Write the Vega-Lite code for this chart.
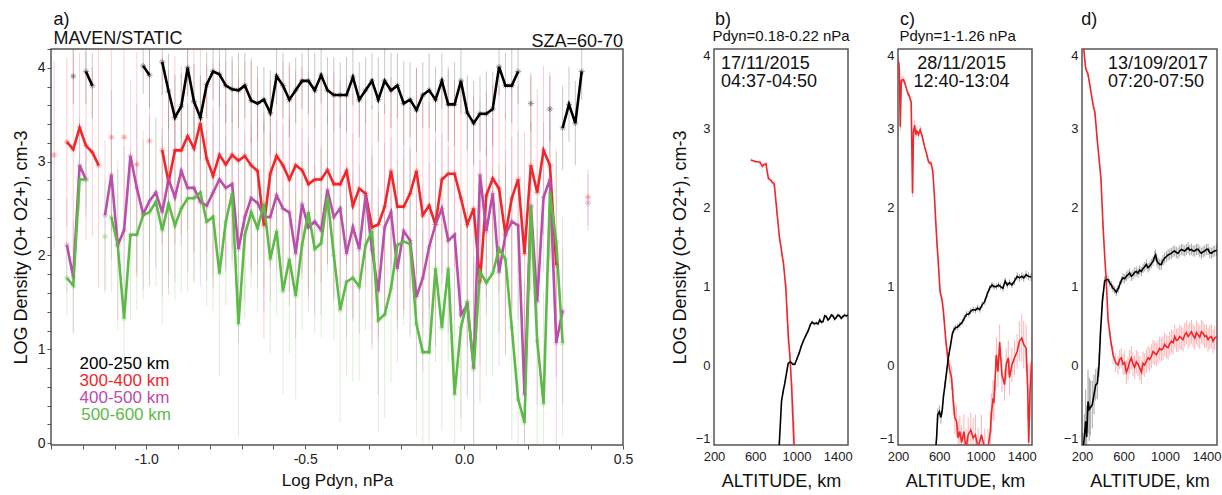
{
"$schema": "https://vega.github.io/schema/vega-lite/v6.json",
"padding": {"left": 11, "top": 9, "right": 0, "bottom": 0},
"config": {
  "font": "Liberation Sans",
  "view": {"stroke": "#555555", "strokeWidth": 1.5},
  "axis": {"grid": false, "domain": false, "labelFont": "Liberation Sans", "titleFont": "Liberation Sans", "titleFontWeight": "normal", "labelColor": "#222222", "titleColor": "#111111", "tickColor": "#555555"},
  "text": {"font": "Liberation Sans"}
},
"datasets": {
  "a": [
    {"s":"B","g":"B1","x":-1.23,"y":3.91,"e":0.3},
    {"s":"B","g":"B2","x":-1.19,"y":3.96,"e":0.35},{"s":"B","g":"B2","x":-1.17,"y":3.81,"e":0.35},
    {"s":"B","g":"B3","x":-1.01,"y":4.02,"e":0.3},{"s":"B","g":"B3","x":-0.99,"y":3.92,"e":0.35},
    {"s":"B","g":"B4","x":-0.95,"y":4.06,"e":0.35},{"s":"B","g":"B4","x":-0.93,"y":3.75,"e":0.4},{"s":"B","g":"B4","x":-0.91,"y":3.47,"e":0.45},{"s":"B","g":"B4","x":-0.89,"y":3.59,"e":0.35},{"s":"B","g":"B4","x":-0.87,"y":4.0,"e":0.3},{"s":"B","g":"B4","x":-0.85,"y":3.64,"e":0.4},{"s":"B","g":"B4","x":-0.83,"y":3.47,"e":0.45},{"s":"B","g":"B4","x":-0.81,"y":3.82,"e":0.35},{"s":"B","g":"B4","x":-0.79,"y":3.96,"e":0.3},{"s":"B","g":"B4","x":-0.77,"y":3.93,"e":0.35},{"s":"B","g":"B4","x":-0.75,"y":3.81,"e":0.4},{"s":"B","g":"B4","x":-0.73,"y":3.77,"e":0.35},{"s":"B","g":"B4","x":-0.71,"y":3.76,"e":0.4},{"s":"B","g":"B4","x":-0.69,"y":3.81,"e":0.35},{"s":"B","g":"B4","x":-0.67,"y":3.65,"e":0.45},{"s":"B","g":"B4","x":-0.65,"y":3.62,"e":0.4},{"s":"B","g":"B4","x":-0.63,"y":3.66,"e":0.35},{"s":"B","g":"B4","x":-0.61,"y":3.52,"e":0.45},{"s":"B","g":"B4","x":-0.59,"y":3.91,"e":0.3},{"s":"B","g":"B4","x":-0.57,"y":3.81,"e":0.35},{"s":"B","g":"B4","x":-0.55,"y":3.66,"e":0.4},{"s":"B","g":"B4","x":-0.53,"y":3.76,"e":0.35},{"s":"B","g":"B4","x":-0.51,"y":3.86,"e":0.3},{"s":"B","g":"B4","x":-0.49,"y":3.86,"e":0.35},{"s":"B","g":"B4","x":-0.47,"y":3.76,"e":0.4},{"s":"B","g":"B4","x":-0.45,"y":3.92,"e":0.3},{"s":"B","g":"B4","x":-0.43,"y":3.76,"e":0.35},{"s":"B","g":"B4","x":-0.41,"y":3.71,"e":0.4},{"s":"B","g":"B4","x":-0.39,"y":3.71,"e":0.35},{"s":"B","g":"B4","x":-0.37,"y":3.71,"e":0.4},{"s":"B","g":"B4","x":-0.35,"y":3.9,"e":0.3},{"s":"B","g":"B4","x":-0.33,"y":3.66,"e":0.4},{"s":"B","g":"B4","x":-0.31,"y":3.76,"e":0.35},{"s":"B","g":"B4","x":-0.29,"y":3.86,"e":0.3},{"s":"B","g":"B4","x":-0.27,"y":3.66,"e":0.45},{"s":"B","g":"B4","x":-0.25,"y":3.86,"e":0.35},{"s":"B","g":"B4","x":-0.23,"y":3.76,"e":0.4},{"s":"B","g":"B4","x":-0.21,"y":3.81,"e":0.35},{"s":"B","g":"B4","x":-0.19,"y":3.62,"e":0.45},{"s":"B","g":"B4","x":-0.17,"y":3.66,"e":0.4},{"s":"B","g":"B4","x":-0.15,"y":3.55,"e":0.45},{"s":"B","g":"B4","x":-0.13,"y":3.71,"e":0.35},{"s":"B","g":"B4","x":-0.11,"y":3.76,"e":0.4},{"s":"B","g":"B4","x":-0.09,"y":3.66,"e":0.35},{"s":"B","g":"B4","x":-0.07,"y":3.86,"e":0.3},{"s":"B","g":"B4","x":-0.05,"y":3.61,"e":0.4},{"s":"B","g":"B4","x":-0.03,"y":3.61,"e":0.45},{"s":"B","g":"B4","x":-0.01,"y":3.86,"e":0.35},{"s":"B","g":"B4","x":0.01,"y":3.52,"e":0.4},{"s":"B","g":"B4","x":0.03,"y":3.41,"e":0.45},{"s":"B","g":"B4","x":0.05,"y":3.51,"e":0.4},{"s":"B","g":"B4","x":0.07,"y":3.51,"e":0.45},{"s":"B","g":"B4","x":0.09,"y":3.56,"e":0.4},{"s":"B","g":"B4","x":0.11,"y":4.01,"e":0.3},{"s":"B","g":"B4","x":0.13,"y":3.81,"e":0.35},{"s":"B","g":"B4","x":0.15,"y":3.81,"e":0.4},{"s":"B","g":"B4","x":0.17,"y":3.96,"e":0.35},
    {"s":"B","g":"B5","x":0.21,"y":3.62,"e":0.3},
    {"s":"B","g":"B6","x":0.27,"y":3.56,"e":0.35},
    {"s":"B","g":"B7","x":0.31,"y":3.36,"e":0.45},{"s":"B","g":"B7","x":0.33,"y":3.61,"e":0.4},{"s":"B","g":"B7","x":0.35,"y":3.41,"e":0.45},{"s":"B","g":"B7","x":0.37,"y":3.96,"e":0.3},
    {"s":"R","g":"R1","x":-1.29,"y":3.07,"e":1.0},
    {"s":"R","g":"R2","x":-1.25,"y":3.21,"e":0.9},{"s":"R","g":"R2","x":-1.23,"y":3.13,"e":1.1},{"s":"R","g":"R2","x":-1.21,"y":3.36,"e":0.8},{"s":"R","g":"R2","x":-1.19,"y":3.17,"e":1.0},{"s":"R","g":"R2","x":-1.17,"y":3.1,"e":0.9},{"s":"R","g":"R2","x":-1.15,"y":2.96,"e":1.3},
    {"s":"R","g":"R3","x":-1.11,"y":3.26,"e":1.0},
    {"s":"R","g":"R4","x":-1.07,"y":3.26,"e":1.1},
    {"s":"R","g":"R5","x":-1.03,"y":2.97,"e":1.2},
    {"s":"R","g":"R6","x":-0.99,"y":3.22,"e":1.2},
    {"s":"R","g":"R7","x":-0.95,"y":3.12,"e":1.0},{"s":"R","g":"R7","x":-0.93,"y":2.78,"e":1.2},{"s":"R","g":"R7","x":-0.91,"y":3.12,"e":1.0},{"s":"R","g":"R7","x":-0.89,"y":3.12,"e":0.9},{"s":"R","g":"R7","x":-0.87,"y":3.27,"e":1.0},{"s":"R","g":"R7","x":-0.85,"y":3.14,"e":1.1},{"s":"R","g":"R7","x":-0.83,"y":3.41,"e":0.9},{"s":"R","g":"R7","x":-0.81,"y":3.03,"e":1.0},{"s":"R","g":"R7","x":-0.79,"y":2.85,"e":1.2},{"s":"R","g":"R7","x":-0.77,"y":3.07,"e":1.0},{"s":"R","g":"R7","x":-0.75,"y":2.97,"e":1.1},{"s":"R","g":"R7","x":-0.73,"y":3.07,"e":1.0},{"s":"R","g":"R7","x":-0.71,"y":3.01,"e":0.9},{"s":"R","g":"R7","x":-0.69,"y":3.06,"e":1.0},{"s":"R","g":"R7","x":-0.67,"y":2.96,"e":1.1},{"s":"R","g":"R7","x":-0.65,"y":2.9,"e":1.0},{"s":"R","g":"R7","x":-0.63,"y":2.32,"e":1.2},{"s":"R","g":"R7","x":-0.61,"y":2.87,"e":1.0},{"s":"R","g":"R7","x":-0.59,"y":3.06,"e":0.9},{"s":"R","g":"R7","x":-0.57,"y":2.96,"e":1.1},{"s":"R","g":"R7","x":-0.55,"y":2.81,"e":1.2},{"s":"R","g":"R7","x":-0.53,"y":2.96,"e":1.0},{"s":"R","g":"R7","x":-0.51,"y":2.91,"e":1.1},{"s":"R","g":"R7","x":-0.49,"y":2.76,"e":1.2},{"s":"R","g":"R7","x":-0.47,"y":2.81,"e":1.0},{"s":"R","g":"R7","x":-0.45,"y":2.81,"e":1.1},{"s":"R","g":"R7","x":-0.43,"y":2.91,"e":1.0},{"s":"R","g":"R7","x":-0.41,"y":2.76,"e":1.2},{"s":"R","g":"R7","x":-0.39,"y":2.76,"e":1.1},{"s":"R","g":"R7","x":-0.37,"y":2.9,"e":1.0},{"s":"R","g":"R7","x":-0.35,"y":2.53,"e":1.2},{"s":"R","g":"R7","x":-0.33,"y":2.71,"e":1.1},{"s":"R","g":"R7","x":-0.31,"y":2.66,"e":1.0},{"s":"R","g":"R7","x":-0.29,"y":2.3,"e":1.3},{"s":"R","g":"R7","x":-0.27,"y":2.33,"e":1.2},{"s":"R","g":"R7","x":-0.25,"y":2.52,"e":1.1},{"s":"R","g":"R7","x":-0.23,"y":2.9,"e":1.0},{"s":"R","g":"R7","x":-0.21,"y":2.52,"e":1.2},{"s":"R","g":"R7","x":-0.19,"y":2.52,"e":1.1},{"s":"R","g":"R7","x":-0.17,"y":2.66,"e":1.0},{"s":"R","g":"R7","x":-0.15,"y":2.9,"e":1.1},{"s":"R","g":"R7","x":-0.13,"y":2.43,"e":1.2},{"s":"R","g":"R7","x":-0.11,"y":2.53,"e":1.1},{"s":"R","g":"R7","x":-0.09,"y":2.33,"e":1.3},{"s":"R","g":"R7","x":-0.07,"y":2.81,"e":1.0},{"s":"R","g":"R7","x":-0.05,"y":2.87,"e":1.1},{"s":"R","g":"R7","x":-0.03,"y":2.87,"e":1.0},{"s":"R","g":"R7","x":-0.01,"y":2.61,"e":1.2},{"s":"R","g":"R7","x":0.01,"y":2.33,"e":1.3},{"s":"R","g":"R7","x":0.03,"y":2.5,"e":1.2},{"s":"R","g":"R7","x":0.05,"y":1.72,"e":1.3},{"s":"R","g":"R7","x":0.07,"y":2.64,"e":1.1},{"s":"R","g":"R7","x":0.09,"y":2.82,"e":1.0},{"s":"R","g":"R7","x":0.11,"y":2.71,"e":1.1},{"s":"R","g":"R7","x":0.13,"y":2.22,"e":1.3},{"s":"R","g":"R7","x":0.15,"y":2.61,"e":1.2},{"s":"R","g":"R7","x":0.17,"y":2.81,"e":1.0},{"s":"R","g":"R7","x":0.19,"y":2.02,"e":1.3},{"s":"R","g":"R7","x":0.21,"y":2.96,"e":1.0},{"s":"R","g":"R7","x":0.23,"y":2.67,"e":1.1},{"s":"R","g":"R7","x":0.25,"y":3.12,"e":0.9},{"s":"R","g":"R7","x":0.27,"y":2.96,"e":1.0},{"s":"R","g":"R7","x":0.29,"y":1.9,"e":1.2},
    {"s":"R","g":"R8","x":0.39,"y":2.62,"e":0.3},
    {"s":"P","g":"P1","x":-1.25,"y":2.11,"e":0.5},{"s":"P","g":"P1","x":-1.23,"y":1.77,"e":0.6},{"s":"P","g":"P1","x":-1.21,"y":2.96,"e":0.5},{"s":"P","g":"P1","x":-1.19,"y":2.81,"e":0.4},
    {"s":"P","g":"P2","x":-1.13,"y":2.43,"e":0.8},{"s":"P","g":"P2","x":-1.11,"y":2.86,"e":0.9},{"s":"P","g":"P2","x":-1.09,"y":2.11,"e":0.8},{"s":"P","g":"P2","x":-1.07,"y":2.27,"e":0.9},{"s":"P","g":"P2","x":-1.05,"y":3.06,"e":0.8},{"s":"P","g":"P2","x":-1.03,"y":2.72,"e":0.9},{"s":"P","g":"P2","x":-1.01,"y":2.44,"e":0.8},{"s":"P","g":"P2","x":-0.99,"y":2.58,"e":0.9},{"s":"P","g":"P2","x":-0.97,"y":2.67,"e":0.8},{"s":"P","g":"P2","x":-0.95,"y":2.46,"e":0.9},{"s":"P","g":"P2","x":-0.93,"y":2.81,"e":1.0},{"s":"P","g":"P2","x":-0.91,"y":2.62,"e":0.9},{"s":"P","g":"P2","x":-0.89,"y":2.9,"e":0.8},{"s":"P","g":"P2","x":-0.87,"y":2.72,"e":0.9},{"s":"P","g":"P2","x":-0.85,"y":2.72,"e":1.0},{"s":"P","g":"P2","x":-0.83,"y":2.57,"e":0.9},{"s":"P","g":"P2","x":-0.81,"y":2.53,"e":0.8},{"s":"P","g":"P2","x":-0.79,"y":2.67,"e":0.9},{"s":"P","g":"P2","x":-0.77,"y":2.81,"e":1.0},{"s":"P","g":"P2","x":-0.75,"y":2.72,"e":0.9},{"s":"P","g":"P2","x":-0.73,"y":2.76,"e":0.8},{"s":"P","g":"P2","x":-0.71,"y":2.07,"e":1.0},{"s":"P","g":"P2","x":-0.69,"y":2.41,"e":0.9},{"s":"P","g":"P2","x":-0.67,"y":2.61,"e":0.8},{"s":"P","g":"P2","x":-0.65,"y":2.56,"e":0.9},{"s":"P","g":"P2","x":-0.63,"y":2.41,"e":1.0},{"s":"P","g":"P2","x":-0.61,"y":2.41,"e":0.9},{"s":"P","g":"P2","x":-0.59,"y":2.64,"e":0.8},{"s":"P","g":"P2","x":-0.57,"y":2.5,"e":0.9},{"s":"P","g":"P2","x":-0.55,"y":2.46,"e":1.0},{"s":"P","g":"P2","x":-0.53,"y":2.02,"e":0.9},{"s":"P","g":"P2","x":-0.51,"y":2.55,"e":0.8},{"s":"P","g":"P2","x":-0.49,"y":2.3,"e":0.9},{"s":"P","g":"P2","x":-0.47,"y":2.36,"e":1.0},{"s":"P","g":"P2","x":-0.45,"y":2.27,"e":0.9},{"s":"P","g":"P2","x":-0.43,"y":2.7,"e":0.8},{"s":"P","g":"P2","x":-0.41,"y":2.41,"e":0.9},{"s":"P","g":"P2","x":-0.39,"y":2.5,"e":1.0},{"s":"P","g":"P2","x":-0.37,"y":2.02,"e":0.9},{"s":"P","g":"P2","x":-0.35,"y":2.3,"e":1.0},{"s":"P","g":"P2","x":-0.33,"y":2.07,"e":0.9},{"s":"P","g":"P2","x":-0.31,"y":2.64,"e":0.8},{"s":"P","g":"P2","x":-0.29,"y":2.06,"e":1.0},{"s":"P","g":"P2","x":-0.27,"y":1.62,"e":1.1},{"s":"P","g":"P2","x":-0.25,"y":2.3,"e":0.9},{"s":"P","g":"P2","x":-0.23,"y":2.46,"e":0.8},{"s":"P","g":"P2","x":-0.21,"y":1.86,"e":1.0},{"s":"P","g":"P2","x":-0.19,"y":2.26,"e":0.9},{"s":"P","g":"P2","x":-0.17,"y":2.16,"e":1.0},{"s":"P","g":"P2","x":-0.15,"y":1.56,"e":1.1},{"s":"P","g":"P2","x":-0.13,"y":1.76,"e":1.0},{"s":"P","g":"P2","x":-0.11,"y":2.09,"e":0.9},{"s":"P","g":"P2","x":-0.09,"y":2.33,"e":0.9},{"s":"P","g":"P2","x":-0.07,"y":2.5,"e":0.8},{"s":"P","g":"P2","x":-0.05,"y":2.16,"e":1.0},{"s":"P","g":"P2","x":-0.03,"y":2.22,"e":0.9},{"s":"P","g":"P2","x":-0.01,"y":1.37,"e":1.1},{"s":"P","g":"P2","x":0.01,"y":1.47,"e":1.0},{"s":"P","g":"P2","x":0.03,"y":0.82,"e":1.1},{"s":"P","g":"P2","x":0.05,"y":2.86,"e":0.8},{"s":"P","g":"P2","x":0.07,"y":2.26,"e":0.9},{"s":"P","g":"P2","x":0.09,"y":2.66,"e":0.8},{"s":"P","g":"P2","x":0.11,"y":1.82,"e":1.0},{"s":"P","g":"P2","x":0.13,"y":2.22,"e":0.9},{"s":"P","g":"P2","x":0.15,"y":2.36,"e":0.9},{"s":"P","g":"P2","x":0.17,"y":2.32,"e":1.0},{"s":"P","g":"P2","x":0.19,"y":0.52,"e":1.2},{"s":"P","g":"P2","x":0.21,"y":2.53,"e":0.9},{"s":"P","g":"P2","x":0.23,"y":1.51,"e":1.1},{"s":"P","g":"P2","x":0.25,"y":2.62,"e":0.8},{"s":"P","g":"P2","x":0.27,"y":2.81,"e":0.8},{"s":"P","g":"P2","x":0.29,"y":1.07,"e":1.1},{"s":"P","g":"P2","x":0.31,"y":1.41,"e":1.0},
    {"s":"P","g":"P3","x":0.39,"y":2.56,"e":0.3},
    {"s":"G","g":"G1","x":-1.25,"y":1.76,"e":0.4},{"s":"G","g":"G1","x":-1.23,"y":1.68,"e":0.5},{"s":"G","g":"G1","x":-1.21,"y":2.81,"e":0.3},{"s":"G","g":"G1","x":-1.19,"y":2.81,"e":0.3},
    {"s":"G","g":"G2","x":-1.13,"y":2.2,"e":0.6},
    {"s":"G","g":"G3","x":-1.11,"y":2.41,"e":0.8},{"s":"G","g":"G3","x":-1.09,"y":2.11,"e":0.9},{"s":"G","g":"G3","x":-1.07,"y":1.33,"e":1.0},{"s":"G","g":"G3","x":-1.05,"y":2.22,"e":0.9},{"s":"G","g":"G3","x":-1.03,"y":2.22,"e":0.8},{"s":"G","g":"G3","x":-1.01,"y":2.43,"e":0.9},{"s":"G","g":"G3","x":-0.99,"y":2.46,"e":0.8},{"s":"G","g":"G3","x":-0.97,"y":2.57,"e":0.9},{"s":"G","g":"G3","x":-0.95,"y":2.27,"e":1.0},{"s":"G","g":"G3","x":-0.93,"y":2.55,"e":0.9},{"s":"G","g":"G3","x":-0.91,"y":2.32,"e":0.8},{"s":"G","g":"G3","x":-0.89,"y":2.5,"e":0.9},{"s":"G","g":"G3","x":-0.87,"y":2.61,"e":1.0},{"s":"G","g":"G3","x":-0.85,"y":2.61,"e":0.9},{"s":"G","g":"G3","x":-0.83,"y":2.67,"e":0.8},{"s":"G","g":"G3","x":-0.81,"y":2.36,"e":0.9},{"s":"G","g":"G3","x":-0.79,"y":2.41,"e":1.0},{"s":"G","g":"G3","x":-0.77,"y":1.81,"e":1.1},{"s":"G","g":"G3","x":-0.75,"y":2.36,"e":0.9},{"s":"G","g":"G3","x":-0.73,"y":2.66,"e":0.8},{"s":"G","g":"G3","x":-0.71,"y":1.27,"e":1.2},{"s":"G","g":"G3","x":-0.69,"y":2.22,"e":0.9},{"s":"G","g":"G3","x":-0.67,"y":2.46,"e":0.8},{"s":"G","g":"G3","x":-0.65,"y":2.29,"e":0.9},{"s":"G","g":"G3","x":-0.63,"y":2.55,"e":0.9},{"s":"G","g":"G3","x":-0.61,"y":1.96,"e":1.0},{"s":"G","g":"G3","x":-0.59,"y":2.26,"e":0.9},{"s":"G","g":"G3","x":-0.57,"y":1.62,"e":1.1},{"s":"G","g":"G3","x":-0.55,"y":1.96,"e":1.0},{"s":"G","g":"G3","x":-0.53,"y":1.57,"e":1.1},{"s":"G","g":"G3","x":-0.51,"y":2.11,"e":0.9},{"s":"G","g":"G3","x":-0.49,"y":2.46,"e":0.8},{"s":"G","g":"G3","x":-0.47,"y":2.07,"e":0.9},{"s":"G","g":"G3","x":-0.45,"y":2.13,"e":1.0},{"s":"G","g":"G3","x":-0.43,"y":2.62,"e":0.8},{"s":"G","g":"G3","x":-0.41,"y":2.0,"e":0.9},{"s":"G","g":"G3","x":-0.39,"y":1.42,"e":1.2},{"s":"G","g":"G3","x":-0.37,"y":1.72,"e":1.0},{"s":"G","g":"G3","x":-0.35,"y":1.76,"e":1.1},{"s":"G","g":"G3","x":-0.33,"y":1.67,"e":1.0},{"s":"G","g":"G3","x":-0.31,"y":2.11,"e":0.9},{"s":"G","g":"G3","x":-0.29,"y":2.26,"e":0.9},{"s":"G","g":"G3","x":-0.27,"y":1.31,"e":1.2},{"s":"G","g":"G3","x":-0.25,"y":1.37,"e":1.1},{"s":"G","g":"G3","x":-0.23,"y":1.65,"e":1.0},{"s":"G","g":"G3","x":-0.21,"y":2.11,"e":0.9},{"s":"G","g":"G3","x":-0.19,"y":2.15,"e":0.9},{"s":"G","g":"G3","x":-0.17,"y":2.12,"e":1.0},{"s":"G","g":"G3","x":-0.15,"y":1.27,"e":1.2},{"s":"G","g":"G3","x":-0.13,"y":0.97,"e":1.3},{"s":"G","g":"G3","x":-0.11,"y":0.97,"e":1.2},{"s":"G","g":"G3","x":-0.09,"y":1.86,"e":1.0},{"s":"G","g":"G3","x":-0.07,"y":1.23,"e":1.1},{"s":"G","g":"G3","x":-0.05,"y":1.86,"e":1.0},{"s":"G","g":"G3","x":-0.03,"y":0.52,"e":1.3},{"s":"G","g":"G3","x":-0.01,"y":1.23,"e":1.1},{"s":"G","g":"G3","x":0.01,"y":1.51,"e":1.0},{"s":"G","g":"G3","x":0.03,"y":0.79,"e":1.2},{"s":"G","g":"G3","x":0.05,"y":1.83,"e":1.0},{"s":"G","g":"G3","x":0.07,"y":1.71,"e":1.0},{"s":"G","g":"G3","x":0.09,"y":1.81,"e":1.1},{"s":"G","g":"G3","x":0.11,"y":2.07,"e":0.9},{"s":"G","g":"G3","x":0.13,"y":1.96,"e":1.0},{"s":"G","g":"G3","x":0.15,"y":1.23,"e":1.2},{"s":"G","g":"G3","x":0.17,"y":0.47,"e":1.3},{"s":"G","g":"G3","x":0.19,"y":0.22,"e":1.2},{"s":"G","g":"G3","x":0.21,"y":2.52,"e":0.9},{"s":"G","g":"G3","x":0.23,"y":1.09,"e":1.2},{"s":"G","g":"G3","x":0.25,"y":0.42,"e":1.2},{"s":"G","g":"G3","x":0.27,"y":2.67,"e":0.8},{"s":"G","g":"G3","x":0.29,"y":2.14,"e":1.0},{"s":"G","g":"G3","x":0.31,"y":1.07,"e":1.0}
  ],
  "aleg": [
    {"s":"B","t":"200-250 km","x":-1.21,"y":0.785},
    {"s":"R","t":"300-400 km","x":-1.21,"y":0.605},
    {"s":"P","t":"400-500 km","x":-1.21,"y":0.424},
    {"s":"G","t":"500-600 km","x":-1.205,"y":0.244}
  ],
  "anl": [{"t":"a)","x":-1.292,"y":4.46},{"t":"MAVEN/STATIC","x":-1.292,"y":4.25}],
  "anr": [{"t":"SZA=60-70","x":0.5,"y":4.22}],
  "b": [
    {"s":"R","alt":559,"y":2.6,"e":0.02},{"s":"R","alt":600,"y":2.58,"e":0.02},{"s":"R","alt":646,"y":2.57,"e":0.03},{"s":"R","alt":669,"y":2.52,"e":0.03},{"s":"R","alt":685,"y":2.54,"e":0.03},{"s":"R","alt":704,"y":2.55,"e":0.03},{"s":"R","alt":727,"y":2.37,"e":0.03},{"s":"R","alt":759,"y":2.33,"e":0.03},{"s":"R","alt":785,"y":2.29,"e":0.04},{"s":"R","alt":810,"y":1.95,"e":0.05},{"s":"R","alt":835,"y":1.62,"e":0.05},{"s":"R","alt":855,"y":1.45,"e":0.06},{"s":"R","alt":875,"y":1.28,"e":0.06},{"s":"R","alt":897,"y":0.98,"e":0.08},{"s":"R","alt":910,"y":0.65,"e":0.1},{"s":"R","alt":920,"y":0.39,"e":0.12},{"s":"R","alt":942,"y":0.01,"e":0.15},{"s":"R","alt":958,"y":-0.41,"e":0.2},{"s":"R","alt":968,"y":-0.74,"e":0.25},{"s":"R","alt":977,"y":-1.0,"e":0.3},
    {"s":"K","alt":833,"y":-1.0,"e":0.05},{"s":"K","alt":845,"y":-0.7,"e":0.05},{"s":"K","alt":855,"y":-0.45,"e":0.04},{"s":"K","alt":870,"y":-0.33,"e":0.03},{"s":"K","alt":887,"y":-0.22,"e":0.03},{"s":"K","alt":905,"y":-0.08,"e":0.03},{"s":"K","alt":920,"y":0.03,"e":0.02},{"s":"K","alt":942,"y":0.05,"e":0.02},{"s":"K","alt":965,"y":0.02,"e":0.02},{"s":"K","alt":984,"y":0.02,"e":0.02},{"s":"K","alt":1005,"y":0.09,"e":0.02},{"s":"K","alt":1026,"y":0.16,"e":0.02},{"s":"K","alt":1045,"y":0.24,"e":0.02},{"s":"K","alt":1065,"y":0.31,"e":0.02},{"s":"K","alt":1090,"y":0.38,"e":0.02},{"s":"K","alt":1113,"y":0.44,"e":0.02},{"s":"K","alt":1135,"y":0.52,"e":0.02},{"s":"K","alt":1152,"y":0.55,"e":0.02},{"s":"K","alt":1172,"y":0.53,"e":0.02},{"s":"K","alt":1194,"y":0.54,"e":0.02},{"s":"K","alt":1210,"y":0.53,"e":0.02},{"s":"K","alt":1226,"y":0.58,"e":0.02},{"s":"K","alt":1242,"y":0.55,"e":0.02},{"s":"K","alt":1258,"y":0.56,"e":0.02},{"s":"K","alt":1274,"y":0.63,"e":0.02},{"s":"K","alt":1290,"y":0.62,"e":0.02},{"s":"K","alt":1306,"y":0.58,"e":0.02},{"s":"K","alt":1322,"y":0.6,"e":0.02},{"s":"K","alt":1338,"y":0.64,"e":0.02},{"s":"K","alt":1354,"y":0.63,"e":0.02},{"s":"K","alt":1370,"y":0.59,"e":0.02},{"s":"K","alt":1386,"y":0.61,"e":0.02},{"s":"K","alt":1402,"y":0.64,"e":0.02},{"s":"K","alt":1418,"y":0.63,"e":0.02},{"s":"K","alt":1434,"y":0.6,"e":0.02},{"s":"K","alt":1450,"y":0.62,"e":0.02},{"s":"K","alt":1466,"y":0.64,"e":0.02},{"s":"K","alt":1483,"y":0.63,"e":0.02},{"s":"K","alt":1498,"y":0.64,"e":0.02}
  ],
  "c": [
    {"s":"R","alt":206,"y":3.84,"e":0.05},{"s":"R","alt":213,"y":3.74,"e":0.05},{"s":"R","alt":222,"y":3.02,"e":0.05},{"s":"R","alt":232,"y":3.6,"e":0.05},{"s":"R","alt":245,"y":3.61,"e":0.04},{"s":"R","alt":255,"y":3.61,"e":0.04},{"s":"R","alt":271,"y":3.55,"e":0.04},{"s":"R","alt":296,"y":3.44,"e":0.04},{"s":"R","alt":312,"y":3.4,"e":0.04},{"s":"R","alt":328,"y":3.32,"e":0.04},{"s":"R","alt":341,"y":2.18,"e":0.05},{"s":"R","alt":350,"y":2.95,"e":0.05},{"s":"R","alt":361,"y":3.04,"e":0.06},{"s":"R","alt":372,"y":2.92,"e":0.06},{"s":"R","alt":383,"y":2.96,"e":0.06},{"s":"R","alt":399,"y":2.92,"e":0.05},{"s":"R","alt":415,"y":2.98,"e":0.05},{"s":"R","alt":438,"y":2.88,"e":0.04},{"s":"R","alt":457,"y":2.77,"e":0.04},{"s":"R","alt":479,"y":2.67,"e":0.04},{"s":"R","alt":495,"y":2.58,"e":0.03},{"s":"R","alt":508,"y":2.56,"e":0.03},{"s":"R","alt":521,"y":2.56,"e":0.03},{"s":"R","alt":537,"y":2.46,"e":0.03},{"s":"R","alt":553,"y":2.16,"e":0.04},{"s":"R","alt":566,"y":1.82,"e":0.04},{"s":"R","alt":579,"y":1.53,"e":0.05},{"s":"R","alt":592,"y":1.28,"e":0.05},{"s":"R","alt":608,"y":0.94,"e":0.05},{"s":"R","alt":630,"y":0.81,"e":0.06},{"s":"R","alt":643,"y":0.65,"e":0.08},{"s":"R","alt":662,"y":0.35,"e":0.1},{"s":"R","alt":682,"y":0.1,"e":0.12},{"s":"R","alt":704,"y":-0.07,"e":0.15},{"s":"R","alt":720,"y":-0.15,"e":0.15},{"s":"R","alt":736,"y":-0.45,"e":0.18},{"s":"R","alt":752,"y":-0.66,"e":0.2},{"s":"R","alt":768,"y":-0.7,"e":0.2},{"s":"R","alt":784,"y":-0.91,"e":0.22},{"s":"R","alt":800,"y":-0.83,"e":0.2},{"s":"R","alt":817,"y":-0.97,"e":0.22},{"s":"R","alt":839,"y":-0.83,"e":0.22},{"s":"R","alt":860,"y":-1.05,"e":0.25},{"s":"R","alt":881,"y":-0.87,"e":0.22},{"s":"R","alt":906,"y":-0.81,"e":0.22},{"s":"R","alt":929,"y":-0.91,"e":0.25},{"s":"R","alt":951,"y":-0.87,"e":0.25},{"s":"R","alt":977,"y":-1.04,"e":0.25},{"s":"R","alt":1009,"y":-0.87,"e":0.25},{"s":"R","alt":1041,"y":-1.04,"e":0.25},{"s":"R","alt":1073,"y":-1.04,"e":0.25},{"s":"R","alt":1096,"y":-0.83,"e":0.25},{"s":"R","alt":1106,"y":-0.6,"e":0.25},{"s":"R","alt":1121,"y":-0.43,"e":0.25},{"s":"R","alt":1131,"y":-0.45,"e":0.25},{"s":"R","alt":1145,"y":-0.1,"e":0.22},{"s":"R","alt":1154,"y":0.14,"e":0.22},{"s":"R","alt":1170,"y":-0.07,"e":0.2},{"s":"R","alt":1186,"y":0.3,"e":0.22},{"s":"R","alt":1208,"y":-0.11,"e":0.22},{"s":"R","alt":1234,"y":-0.24,"e":0.2},{"s":"R","alt":1250,"y":0.02,"e":0.2},{"s":"R","alt":1270,"y":0.1,"e":0.22},{"s":"R","alt":1282,"y":-0.15,"e":0.22},{"s":"R","alt":1305,"y":0.01,"e":0.22},{"s":"R","alt":1330,"y":0.1,"e":0.22},{"s":"R","alt":1356,"y":0.18,"e":0.22},{"s":"R","alt":1378,"y":0.31,"e":0.25},{"s":"R","alt":1401,"y":0.35,"e":0.3},{"s":"R","alt":1420,"y":0.27,"e":0.3},{"s":"R","alt":1443,"y":0.22,"e":0.3},{"s":"R","alt":1459,"y":-0.32,"e":0.35},{"s":"R","alt":1468,"y":-0.97,"e":0.4},{"s":"R","alt":1481,"y":-0.33,"e":0.35},{"s":"R","alt":1497,"y":0.06,"e":0.3},
    {"s":"K","alt":566,"y":-1.05,"e":0.05},{"s":"K","alt":576,"y":-0.87,"e":0.06},{"s":"K","alt":585,"y":-0.62,"e":0.08},{"s":"K","alt":601,"y":-0.58,"e":0.08},{"s":"K","alt":617,"y":-0.65,"e":0.08},{"s":"K","alt":630,"y":-0.55,"e":0.06},{"s":"K","alt":640,"y":-0.4,"e":0.05},{"s":"K","alt":656,"y":-0.24,"e":0.05},{"s":"K","alt":672,"y":-0.07,"e":0.05},{"s":"K","alt":688,"y":0.1,"e":0.05},{"s":"K","alt":711,"y":0.27,"e":0.04},{"s":"K","alt":727,"y":0.4,"e":0.04},{"s":"K","alt":743,"y":0.46,"e":0.04},{"s":"K","alt":759,"y":0.48,"e":0.04},{"s":"K","alt":778,"y":0.49,"e":0.04},{"s":"K","alt":800,"y":0.52,"e":0.04},{"s":"K","alt":823,"y":0.55,"e":0.04},{"s":"K","alt":842,"y":0.6,"e":0.04},{"s":"K","alt":865,"y":0.65,"e":0.04},{"s":"K","alt":887,"y":0.65,"e":0.04},{"s":"K","alt":906,"y":0.69,"e":0.04},{"s":"K","alt":929,"y":0.71,"e":0.04},{"s":"K","alt":951,"y":0.7,"e":0.04},{"s":"K","alt":971,"y":0.73,"e":0.04},{"s":"K","alt":993,"y":0.71,"e":0.04},{"s":"K","alt":1016,"y":0.77,"e":0.04},{"s":"K","alt":1041,"y":0.81,"e":0.04},{"s":"K","alt":1064,"y":0.9,"e":0.04},{"s":"K","alt":1089,"y":0.98,"e":0.04},{"s":"K","alt":1112,"y":1.02,"e":0.04},{"s":"K","alt":1131,"y":1.0,"e":0.04},{"s":"K","alt":1154,"y":1.0,"e":0.04},{"s":"K","alt":1176,"y":1.02,"e":0.04},{"s":"K","alt":1195,"y":1.0,"e":0.04},{"s":"K","alt":1218,"y":0.98,"e":0.04},{"s":"K","alt":1240,"y":1.07,"e":0.04},{"s":"K","alt":1260,"y":1.02,"e":0.04},{"s":"K","alt":1282,"y":1.05,"e":0.04},{"s":"K","alt":1305,"y":1.02,"e":0.04},{"s":"K","alt":1330,"y":1.07,"e":0.05},{"s":"K","alt":1356,"y":1.13,"e":0.05},{"s":"K","alt":1378,"y":1.11,"e":0.05},{"s":"K","alt":1401,"y":1.13,"e":0.05},{"s":"K","alt":1420,"y":1.11,"e":0.05},{"s":"K","alt":1443,"y":1.15,"e":0.05},{"s":"K","alt":1465,"y":1.13,"e":0.05},{"s":"K","alt":1491,"y":1.12,"e":0.05}
  ],
  "d": [
    {"s":"R","alt":200,"y":4.1,"e":0.02},{"s":"R","alt":216,"y":4.01,"e":0.02},{"s":"R","alt":235,"y":3.76,"e":0.03},{"s":"R","alt":258,"y":3.68,"e":0.03},{"s":"R","alt":280,"y":3.51,"e":0.03},{"s":"R","alt":306,"y":3.3,"e":0.04},{"s":"R","alt":325,"y":3.19,"e":0.04},{"s":"R","alt":345,"y":2.88,"e":0.04},{"s":"R","alt":364,"y":2.62,"e":0.04},{"s":"R","alt":383,"y":2.35,"e":0.04},{"s":"R","alt":402,"y":1.78,"e":0.05},{"s":"R","alt":418,"y":1.4,"e":0.05},{"s":"R","alt":434,"y":1.07,"e":0.06},{"s":"R","alt":450,"y":0.6,"e":0.08},{"s":"R","alt":473,"y":0.35,"e":0.1},{"s":"R","alt":499,"y":0.14,"e":0.12},{"s":"R","alt":524,"y":0.04,"e":0.12},{"s":"R","alt":547,"y":0.01,"e":0.12},{"s":"R","alt":563,"y":0.08,"e":0.12},{"s":"R","alt":579,"y":0.1,"e":0.12},{"s":"R","alt":595,"y":0.02,"e":0.13},{"s":"R","alt":611,"y":0.04,"e":0.15},{"s":"R","alt":627,"y":-0.08,"e":0.15},{"s":"R","alt":643,"y":-0.03,"e":0.15},{"s":"R","alt":659,"y":0.05,"e":0.15},{"s":"R","alt":675,"y":0.1,"e":0.15},{"s":"R","alt":691,"y":0.02,"e":0.15},{"s":"R","alt":707,"y":-0.02,"e":0.15},{"s":"R","alt":723,"y":0.05,"e":0.15},{"s":"R","alt":740,"y":0.02,"e":0.15},{"s":"R","alt":756,"y":-0.03,"e":0.15},{"s":"R","alt":772,"y":-0.08,"e":0.15},{"s":"R","alt":788,"y":0.03,"e":0.15},{"s":"R","alt":804,"y":0.01,"e":0.15},{"s":"R","alt":820,"y":0.06,"e":0.15},{"s":"R","alt":836,"y":0.1,"e":0.15},{"s":"R","alt":852,"y":0.08,"e":0.15},{"s":"R","alt":868,"y":0.12,"e":0.15},{"s":"R","alt":884,"y":0.18,"e":0.15},{"s":"R","alt":900,"y":0.16,"e":0.15},{"s":"R","alt":916,"y":0.14,"e":0.15},{"s":"R","alt":932,"y":0.18,"e":0.15},{"s":"R","alt":948,"y":0.22,"e":0.15},{"s":"R","alt":964,"y":0.2,"e":0.15},{"s":"R","alt":980,"y":0.22,"e":0.15},{"s":"R","alt":996,"y":0.27,"e":0.15},{"s":"R","alt":1013,"y":0.24,"e":0.15},{"s":"R","alt":1029,"y":0.23,"e":0.15},{"s":"R","alt":1045,"y":0.28,"e":0.15},{"s":"R","alt":1061,"y":0.31,"e":0.15},{"s":"R","alt":1077,"y":0.29,"e":0.15},{"s":"R","alt":1093,"y":0.37,"e":0.15},{"s":"R","alt":1109,"y":0.32,"e":0.15},{"s":"R","alt":1125,"y":0.33,"e":0.15},{"s":"R","alt":1141,"y":0.37,"e":0.15},{"s":"R","alt":1157,"y":0.35,"e":0.15},{"s":"R","alt":1173,"y":0.33,"e":0.15},{"s":"R","alt":1189,"y":0.39,"e":0.15},{"s":"R","alt":1205,"y":0.42,"e":0.15},{"s":"R","alt":1222,"y":0.37,"e":0.15},{"s":"R","alt":1238,"y":0.4,"e":0.15},{"s":"R","alt":1254,"y":0.43,"e":0.15},{"s":"R","alt":1270,"y":0.38,"e":0.15},{"s":"R","alt":1286,"y":0.35,"e":0.15},{"s":"R","alt":1302,"y":0.42,"e":0.15},{"s":"R","alt":1318,"y":0.39,"e":0.15},{"s":"R","alt":1334,"y":0.36,"e":0.15},{"s":"R","alt":1350,"y":0.43,"e":0.15},{"s":"R","alt":1366,"y":0.41,"e":0.15},{"s":"R","alt":1382,"y":0.37,"e":0.15},{"s":"R","alt":1398,"y":0.38,"e":0.15},{"s":"R","alt":1414,"y":0.33,"e":0.15},{"s":"R","alt":1430,"y":0.36,"e":0.15},{"s":"R","alt":1446,"y":0.37,"e":0.15},{"s":"R","alt":1462,"y":0.31,"e":0.15},{"s":"R","alt":1478,"y":0.35,"e":0.15},{"s":"R","alt":1500,"y":0.37,"e":0.15},
    {"s":"K","alt":210,"y":-1.05,"e":0.2},{"s":"K","alt":222,"y":-0.91,"e":0.3},{"s":"K","alt":235,"y":-0.7,"e":0.4},{"s":"K","alt":245,"y":-0.9,"e":0.4},{"s":"K","alt":258,"y":-0.45,"e":0.4},{"s":"K","alt":270,"y":-0.55,"e":0.4},{"s":"K","alt":280,"y":-0.53,"e":0.35},{"s":"K","alt":299,"y":-0.49,"e":0.3},{"s":"K","alt":316,"y":-0.36,"e":0.25},{"s":"K","alt":332,"y":-0.24,"e":0.2},{"s":"K","alt":348,"y":-0.22,"e":0.2},{"s":"K","alt":364,"y":0.01,"e":0.15},{"s":"K","alt":377,"y":0.39,"e":0.12},{"s":"K","alt":396,"y":0.81,"e":0.1},{"s":"K","alt":418,"y":1.07,"e":0.06},{"s":"K","alt":434,"y":1.09,"e":0.05},{"s":"K","alt":450,"y":1.09,"e":0.05},{"s":"K","alt":466,"y":1.05,"e":0.05},{"s":"K","alt":482,"y":1.02,"e":0.05},{"s":"K","alt":498,"y":0.98,"e":0.05},{"s":"K","alt":514,"y":0.96,"e":0.05},{"s":"K","alt":530,"y":0.93,"e":0.05},{"s":"K","alt":547,"y":0.97,"e":0.05},{"s":"K","alt":562,"y":1.02,"e":0.05},{"s":"K","alt":579,"y":1.08,"e":0.05},{"s":"K","alt":595,"y":1.11,"e":0.06},{"s":"K","alt":611,"y":1.1,"e":0.06},{"s":"K","alt":627,"y":1.13,"e":0.06},{"s":"K","alt":643,"y":1.15,"e":0.06},{"s":"K","alt":659,"y":1.17,"e":0.06},{"s":"K","alt":675,"y":1.13,"e":0.06},{"s":"K","alt":691,"y":1.15,"e":0.06},{"s":"K","alt":707,"y":1.18,"e":0.06},{"s":"K","alt":723,"y":1.19,"e":0.06},{"s":"K","alt":739,"y":1.17,"e":0.06},{"s":"K","alt":755,"y":1.21,"e":0.06},{"s":"K","alt":771,"y":1.19,"e":0.06},{"s":"K","alt":788,"y":1.23,"e":0.06},{"s":"K","alt":804,"y":1.25,"e":0.06},{"s":"K","alt":820,"y":1.28,"e":0.06},{"s":"K","alt":836,"y":1.24,"e":0.06},{"s":"K","alt":852,"y":1.26,"e":0.06},{"s":"K","alt":868,"y":1.29,"e":0.06},{"s":"K","alt":884,"y":1.32,"e":0.06},{"s":"K","alt":900,"y":1.38,"e":0.07},{"s":"K","alt":909,"y":1.4,"e":0.07},{"s":"K","alt":920,"y":1.33,"e":0.07},{"s":"K","alt":932,"y":1.3,"e":0.07},{"s":"K","alt":948,"y":1.28,"e":0.07},{"s":"K","alt":964,"y":1.28,"e":0.07},{"s":"K","alt":980,"y":1.33,"e":0.07},{"s":"K","alt":996,"y":1.36,"e":0.07},{"s":"K","alt":1013,"y":1.38,"e":0.07},{"s":"K","alt":1029,"y":1.4,"e":0.07},{"s":"K","alt":1045,"y":1.41,"e":0.07},{"s":"K","alt":1061,"y":1.42,"e":0.07},{"s":"K","alt":1077,"y":1.44,"e":0.07},{"s":"K","alt":1093,"y":1.45,"e":0.07},{"s":"K","alt":1109,"y":1.43,"e":0.07},{"s":"K","alt":1125,"y":1.42,"e":0.07},{"s":"K","alt":1141,"y":1.45,"e":0.07},{"s":"K","alt":1157,"y":1.47,"e":0.07},{"s":"K","alt":1173,"y":1.46,"e":0.07},{"s":"K","alt":1189,"y":1.45,"e":0.07},{"s":"K","alt":1205,"y":1.47,"e":0.07},{"s":"K","alt":1222,"y":1.49,"e":0.07},{"s":"K","alt":1238,"y":1.46,"e":0.07},{"s":"K","alt":1254,"y":1.47,"e":0.07},{"s":"K","alt":1270,"y":1.45,"e":0.07},{"s":"K","alt":1286,"y":1.45,"e":0.07},{"s":"K","alt":1302,"y":1.47,"e":0.07},{"s":"K","alt":1318,"y":1.47,"e":0.07},{"s":"K","alt":1334,"y":1.44,"e":0.07},{"s":"K","alt":1350,"y":1.42,"e":0.07},{"s":"K","alt":1366,"y":1.44,"e":0.07},{"s":"K","alt":1382,"y":1.45,"e":0.07},{"s":"K","alt":1398,"y":1.47,"e":0.07},{"s":"K","alt":1414,"y":1.47,"e":0.07},{"s":"K","alt":1430,"y":1.43,"e":0.07},{"s":"K","alt":1446,"y":1.42,"e":0.07},{"s":"K","alt":1462,"y":1.44,"e":0.07},{"s":"K","alt":1478,"y":1.45,"e":0.07},{"s":"K","alt":1498,"y":1.46,"e":0.07}
  ],
  "bl": [{"t":"b)","alt":210,"y":4.3}],
  "bn": [{"t":["17/11/2015","04:37-04:50"],"alt":267,"y":3.93}],
  "bp": [{"t":"Pdyn=0.18-0.22 nPa","alt":850,"y":4.1}],
  "cl": [{"t":"c)","alt":220,"y":4.3}],
  "cn": [{"t":["28/11/2015","12:40-13:04"],"alt":817,"y":3.93}],
  "cp": [{"t":"Pdyn=1-1.26 nPa","alt":778,"y":4.1}],
  "dl": [{"t":"d)","alt":192,"y":4.3}],
  "dn": [{"t":["13/109/2017","07:20-07:50"],"alt":450,"y":3.93}]
},
"spacing": 36,
"hconcat": [
  {
    "width": 572, "height": 396,
    "encoding": {
      "x": {"field": "x", "type": "quantitative", "scale": {"domain": [-1.3, 0.5], "nice": false, "zero": false},
        "axis": {"values": [-1.3,-1.2,-1.1,-1,-0.9,-0.8,-0.7,-0.6,-0.5,-0.4,-0.3,-0.2,-0.1,0,0.1,0.2,0.3,0.4,0.5],
          "labelExpr": "abs(datum.value*2-round(datum.value*2))<0.000001 ? replace(format(datum.value,'.1f'),'\u2212','-') : ''",
          "title": "Log Pdyn, nPa", "tickSize": 4, "labelPadding": 3, "labelFontSize": 14, "titleFontSize": 17, "titlePadding": 6, "labelFlush": false, "labelOverlap": false, "labelBound": false}},
      "y": {"field": "y", "type": "quantitative", "scale": {"domain": [-0.02, 4.2], "nice": false, "zero": false},
        "axis": {"values": [0,0.2,0.4,0.6,0.8,1,1.2,1.4,1.6,1.8,2,2.2,2.4,2.6,2.8,3,3.2,3.4,3.6,3.8,4,4.2],
          "labelExpr": "datum.value % 1 === 0 ? format(datum.value,'d') : ''",
          "title": "LOG Density (O+ O2+), cm-3", "tickSize": 4, "labelPadding": 2, "labelFontSize": 14, "titleFontSize": 18, "titlePadding": 7, "labelOverlap": false}}
    },
    "layer": [
      {"data": {"name": "a"}, "mark": {"type": "errorbar", "opacity": 0.22, "thickness": 1, "clip": true},
       "encoding": {"yError": {"field": "e"}, "color": {"field": "s", "type": "nominal", "scale": {"domain": ["B","R","P","G"], "range": ["#000000","#f0262b","#b94fa9","#5dba47"]}, "legend": null}}},
      {"data": {"name": "a"}, "mark": {"type": "line", "strokeWidth": 2.6, "clip": true},
       "encoding": {"detail": {"field": "g", "type": "nominal"}, "color": {"field": "s", "type": "nominal", "scale": {"domain": ["B","R","P","G"], "range": ["#000000","#f0262b","#b94fa9","#5dba47"]}, "legend": null}}},
      {"data": {"name": "a"}, "mark": {"type": "point", "shape": "M-1,0L1,0M0,-1L0,1M-0.7,-0.7L0.7,0.7M-0.7,0.7L0.7,-0.7", "size": 36, "filled": false, "strokeWidth": 1, "opacity": 0.4, "clip": true},
       "encoding": {"color": {"field": "s", "type": "nominal", "scale": {"domain": ["B","R","P","G"], "range": ["#000000","#f0262b","#b94fa9","#5dba47"]}, "legend": null}}},
      {"data": {"name": "aleg"}, "mark": {"type": "text", "fontSize": 17, "align": "left", "baseline": "alphabetic"},
       "encoding": {"text": {"field": "t"}, "color": {"field": "s", "type": "nominal", "scale": {"domain": ["B","R","P","G"], "range": ["#000000","#f0262b","#b94fa9","#5dba47"]}, "legend": null}}},
      {"data": {"name": "anl"}, "mark": {"type": "text", "fontSize": 18, "align": "left", "baseline": "alphabetic", "color": "#111111"},
       "encoding": {"text": {"field": "t"}}},
      {"data": {"name": "anr"}, "mark": {"type": "text", "fontSize": 18, "align": "right", "baseline": "alphabetic", "color": "#111111"},
       "encoding": {"text": {"field": "t"}}}
    ]
  },
  {
    "bounds": "flush",
    "spacing": 50,
    "hconcat": [
      {
        "width": 134, "height": 396,
        "encoding": {
          "x": {"field": "alt", "type": "quantitative", "scale": {"domain": [200, 1500], "nice": false, "zero": false},
            "axis": {"values": [200,600,1000,1400], "labelExpr": "datum.value + ''", "title": "ALTITUDE, km", "ticks": false, "labelPadding": 5, "labelFontSize": 13, "titleFontSize": 18, "titlePadding": 9, "labelFlush": false, "labelOverlap": false, "labelBound": false}},
          "y": {"field": "y", "type": "quantitative", "scale": {"domain": [-1, 4], "nice": false, "zero": false},
            "axis": {"values": [-1,0,1,2,3,4], "title": "LOG Density (O+ O2+), cm-3", "ticks": false, "labelPadding": 4, "labelFontSize": 13, "titleFontSize": 18, "titlePadding": 6, "labelOverlap": false, "labelFlush": true}}
        },
        "layer": [
          {"data": {"name": "b"}, "mark": {"type": "errorbar", "opacity": 0.35, "thickness": 1, "clip": true},
           "encoding": {"yError": {"field": "e"}, "color": {"field": "s", "type": "nominal", "scale": {"domain": ["R","K"], "range": ["#f0262b","#000000"]}, "legend": null}}},
          {"data": {"name": "b"}, "mark": {"type": "line", "strokeWidth": 1.6, "clip": true},
           "encoding": {"color": {"field": "s", "type": "nominal", "scale": {"domain": ["R","K"], "range": ["#f0262b","#000000"]}, "legend": null}}},
          {"data": {"name": "bl"}, "mark": {"type": "text", "fontSize": 18, "align": "left", "baseline": "alphabetic", "color": "#111111"},
           "encoding": {"text": {"field": "t"}}},
          {"data": {"name": "bn"}, "mark": {"type": "text", "fontSize": 18, "align": "left", "baseline": "top", "lineHeight": 18, "color": "#111111"},
           "encoding": {"text": {"field": "t"}}},
          {"data": {"name": "bp"}, "mark": {"type": "text", "fontSize": 15, "align": "center", "baseline": "alphabetic", "color": "#111111"},
           "encoding": {"text": {"field": "t"}}}
        ]
      },
      {
        "width": 134, "height": 396,
        "encoding": {
          "x": {"field": "alt", "type": "quantitative", "scale": {"domain": [200, 1500], "nice": false, "zero": false},
            "axis": {"values": [200,600,1000,1400], "labelExpr": "datum.value + ''", "title": "ALTITUDE, km", "ticks": false, "labelPadding": 5, "labelFontSize": 13, "titleFontSize": 18, "titlePadding": 9, "labelFlush": false, "labelOverlap": false, "labelBound": false}},
          "y": {"field": "y", "type": "quantitative", "scale": {"domain": [-1, 4], "nice": false, "zero": false},
            "axis": {"values": [-1,0,1,2,3,4], "title": null, "ticks": false, "labelPadding": 4, "labelFontSize": 13, "labelOverlap": false, "labelFlush": true}}
        },
        "layer": [
          {"data": {"name": "c"}, "mark": {"type": "errorbar", "opacity": 0.35, "thickness": 1, "clip": true},
           "encoding": {"yError": {"field": "e"}, "color": {"field": "s", "type": "nominal", "scale": {"domain": ["R","K"], "range": ["#f0262b","#000000"]}, "legend": null}}},
          {"data": {"name": "c"}, "mark": {"type": "line", "strokeWidth": 1.6, "clip": true},
           "encoding": {"color": {"field": "s", "type": "nominal", "scale": {"domain": ["R","K"], "range": ["#f0262b","#000000"]}, "legend": null}}},
          {"data": {"name": "cl"}, "mark": {"type": "text", "fontSize": 18, "align": "left", "baseline": "alphabetic", "color": "#111111"},
           "encoding": {"text": {"field": "t"}}},
          {"data": {"name": "cn"}, "mark": {"type": "text", "fontSize": 18, "align": "center", "baseline": "top", "lineHeight": 18, "color": "#111111"},
           "encoding": {"text": {"field": "t"}}},
          {"data": {"name": "cp"}, "mark": {"type": "text", "fontSize": 15, "align": "center", "baseline": "alphabetic", "color": "#111111"},
           "encoding": {"text": {"field": "t"}}}
        ]
      },
      {
        "width": 135, "height": 396,
        "encoding": {
          "x": {"field": "alt", "type": "quantitative", "scale": {"domain": [200, 1500], "nice": false, "zero": false},
            "axis": {"values": [200,600,1000,1400], "labelExpr": "datum.value + ''", "title": "ALTITUDE, km", "ticks": false, "labelPadding": 5, "labelFontSize": 13, "titleFontSize": 18, "titlePadding": 9, "labelFlush": false, "labelOverlap": false, "labelBound": false}},
          "y": {"field": "y", "type": "quantitative", "scale": {"domain": [-1, 4], "nice": false, "zero": false},
            "axis": {"values": [-1,0,1,2,3,4], "title": null, "ticks": false, "labelPadding": 4, "labelFontSize": 13, "labelOverlap": false, "labelFlush": true}}
        },
        "layer": [
          {"data": {"name": "d"}, "mark": {"type": "errorbar", "opacity": 0.35, "thickness": 1, "clip": true},
           "encoding": {"yError": {"field": "e"}, "color": {"field": "s", "type": "nominal", "scale": {"domain": ["R","K"], "range": ["#f0262b","#000000"]}, "legend": null}}},
          {"data": {"name": "d"}, "mark": {"type": "line", "strokeWidth": 1.6, "clip": true},
           "encoding": {"color": {"field": "s", "type": "nominal", "scale": {"domain": ["R","K"], "range": ["#f0262b","#000000"]}, "legend": null}}},
          {"data": {"name": "dl"}, "mark": {"type": "text", "fontSize": 18, "align": "left", "baseline": "alphabetic", "color": "#111111"},
           "encoding": {"text": {"field": "t"}}},
          {"data": {"name": "dn"}, "mark": {"type": "text", "fontSize": 18, "align": "left", "baseline": "top", "lineHeight": 18, "color": "#111111"},
           "encoding": {"text": {"field": "t"}}}
        ]
      }
    ]
  }
]
}
